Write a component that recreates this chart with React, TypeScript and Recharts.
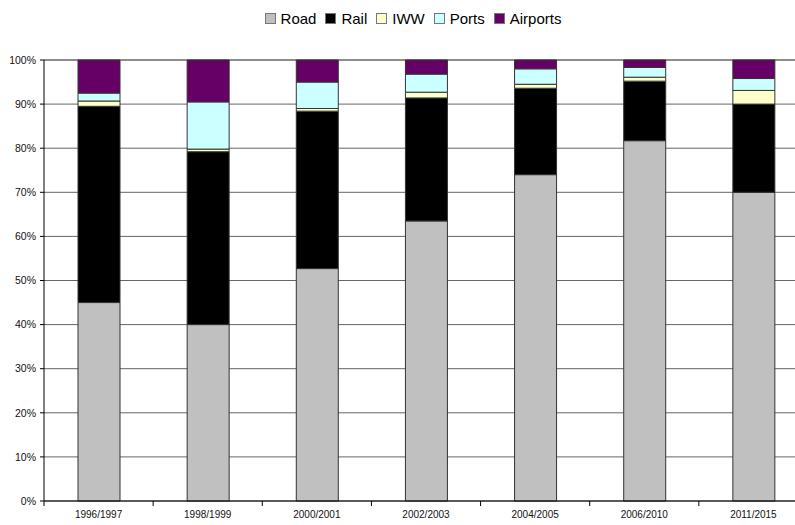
import { Bar, BarChart, CartesianGrid, Legend, XAxis, YAxis } from "recharts";

// Share of investment per transport mode, in percent of each period's total
const PERIODS = [
  "1996/1997",
  "1998/1999",
  "2000/2001",
  "2002/2003",
  "2004/2005",
  "2006/2010",
  "2011/2015",
];
const ROAD = [45, 40, 52.7, 63.5, 74, 81.7, 70];
const RAIL = [44.5, 39.2, 35.7, 27.9, 19.6, 13.5, 20];
const IWW = [1.2, 0.6, 0.6, 1.3, 0.9, 0.9, 3.1];
const PORTS = [1.8, 10.7, 6, 4.1, 3.5, 2.2, 2.7];
const AIRPORTS = [7.5, 9.5, 5, 3.2, 2, 1.7, 4.2];
const Y_TICKS = [0, 10, 20, 30, 40, 50, 60, 70, 80, 90, 100];

const SERIES = [
  { key: "Road", color: "#C0C0C0" },
  { key: "Rail", color: "#000000" },
  { key: "IWW", color: "#FFFFCC" },
  { key: "Ports", color: "#CCFFFF" },
  { key: "Airports", color: "#660066" },
];

const data = PERIODS.map((period, i) => ({
  period,
  Road: ROAD[i],
  Rail: RAIL[i],
  IWW: IWW[i],
  Ports: PORTS[i],
  Airports: AIRPORTS[i],
}));

const FONT = '"Liberation Sans", Arial, sans-serif';

function ModeLegend() {
  return (
    <div style={{ display: "flex", justifyContent: "center", fontFamily: FONT, fontSize: 15 }}>
      {SERIES.map((s) => (
        <div key={s.key} style={{ display: "flex", alignItems: "center", marginRight: 9 }}>
          <span
            style={{
              display: "inline-block",
              width: 9,
              height: 9,
              background: s.color,
              border: "1px solid #777",
              marginRight: 5,
            }}
          />
          <span style={{ color: "#000" }}>{s.key}</span>
        </div>
      ))}
    </div>
  );
}

// Category tick: label in the middle of the band, tick mark on the band's left edge
function PeriodTick(props: any) {
  const { x, y, payload } = props;
  const half = payload.offset ?? 0;
  return (
    <g>
      <line x1={x - half} y1={y} x2={x - half} y2={y + 5} stroke="#000" />
      <text x={x} y={y + 17} textAnchor="middle" fontSize={10} fill="#111" fontFamily={FONT}>
        {payload.value}
      </text>
    </g>
  );
}

export default function App() {
  return (
    <div
      style={{
        position: "absolute",
        left: 0,
        top: 0,
        width: 795,
        height: 525,
        overflow: "hidden",
        background: "#fff",
      }}
    >
      <BarChart
        width={820}
        height={525}
        data={data}
        margin={{ top: 43, right: 12, left: 0, bottom: 4 }}
        barSize={42}
      >
        <CartesianGrid horizontal vertical={false} stroke="#666" />
        <XAxis
          dataKey="period"
          tick={<PeriodTick />}
          tickLine={false}
          tickSize={0}
          tickMargin={0}
          axisLine={{ stroke: "#000" }}
          height={20}
          interval={0}
        />
        <YAxis
          domain={[0, 100]}
          ticks={Y_TICKS}
          tickFormatter={(v) => `${v}%`}
          width={44}
          tickSize={4}
          tickMargin={4}
          axisLine={{ stroke: "#000" }}
          tickLine={{ stroke: "#000" }}
          tick={{ fontSize: 10.5, fill: "#111", fontFamily: FONT }}
          interval={0}
        />
        <Legend
          layout="vertical"
          align="center"
          verticalAlign="top"
          content={<ModeLegend />}
          wrapperStyle={{ left: 40, top: 10, width: 755 }}
        />
        {SERIES.map((s) => (
          <Bar
            key={s.key}
            dataKey={s.key}
            stackId="mode"
            fill={s.color}
            stroke="#333"
            strokeWidth={1}
            isAnimationActive={false}
          />
        ))}
      </BarChart>
    </div>
  );
}
